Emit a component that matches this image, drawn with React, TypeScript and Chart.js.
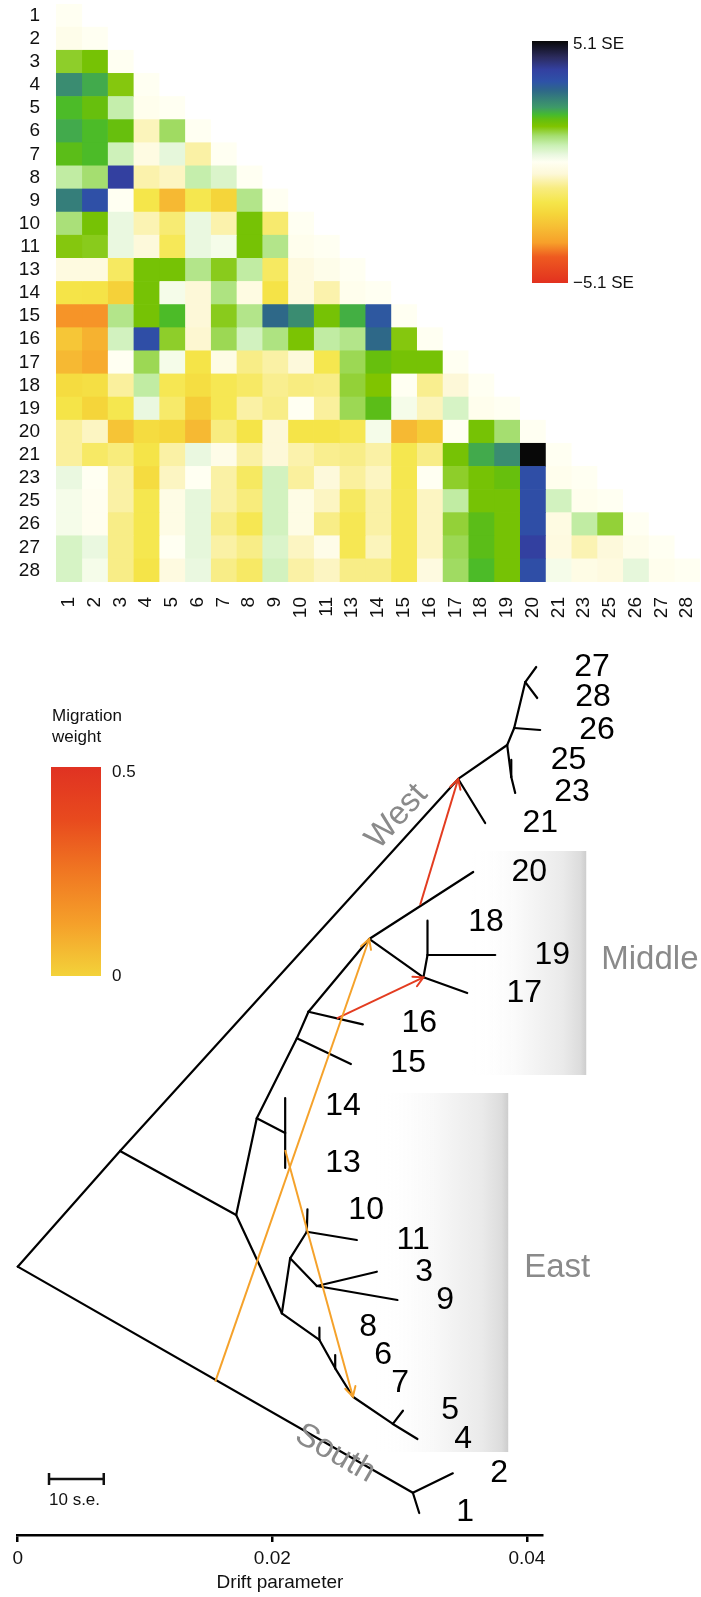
import React, { useEffect, useRef } from "react";
import { Chart, registerables } from "chart.js";

Chart.register(...registerables);

const FONT = '"Liberation Sans", Arial, Helvetica, sans-serif';
Chart.defaults.font.family = FONT;

// ---------------- Residual matrix (SE units) ----------------
const populations = ["1","2","3","4","5","6","7","8","9","10","11","13","14","15","16","17","18","19","20","21","23","25","26","27","28"];

const res1 = [0];
const res2 = [-0.15, 0];
const res3 = [1.35, 1.6, 0];
const res4 = [2.5, 2.15, 1.45, 0];
const res5 = [1.95, 1.75, 0.75, -0.1, 0];
const res6 = [2.15, 1.95, 1.75, -0.7, 1.15, 0];
const res7 = [1.85, 1.95, 0.65, -0.3, 0.35, -0.85, 0];
const res8 = [0.8, 1.1, 3.9, -0.8, -0.65, 0.75, 0.5, 0];
const res9 = [2.7, 3.45, 0, -1.7, -2.85, -1.65, -2.2, 0.95, 0];
const res10 = [1.05, 1.6, 0.3, -0.75, -1.25, 0.3, -0.8, 1.6, -1.3, 0];
const res11 = [1.45, 1.4, 0.3, -0.45, -1.55, 0.3, 0.15, 1.6, 0.95, -0.1, 0];
const res13 = [-0.35, -0.35, -1.45, 1.6, 1.6, 0.95, 1.4, 0.8, -1.45, -0.35, -0.15, 0];
const res14 = [-1.75, -1.8, -2.3, 1.6, 0.15, -0.5, 1.0, -0.3, -1.8, -0.35, -0.8, -0.1, 0];
const res15 = [-3.5, -3.5, 0.95, 1.6, 1.95, -0.5, 1.4, 0.95, 3.0, 2.5, 1.6, 2.1, 3.3, 0];
const res16 = [-2.55, -3.0, 0.6, 3.5, 1.35, -0.55, 1.2, 0.6, 1.0, 1.55, 0.8, 0.95, 3.0, 1.45, 0];
const res17 = [-2.85, -3.15, 0, 1.2, 0.15, -1.75, -0.25, -1.05, -0.85, -0.45, -1.65, 1.2, 1.75, 1.6, 1.6, 0];
const res18 = [-2.0, -1.9, -0.9, 0.8, -1.6, -1.95, -1.6, -1.4, -1.0, -1.1, -1.05, 1.3, 1.5, 0, -1.0, -0.5, 0];
const res19 = [-1.75, -2.2, -1.65, 0.3, -1.35, -2.4, -1.6, -0.85, -1.05, 0, -0.9, 1.2, 1.85, 0.15, -0.7, 0.55, -0.1, 0];
const res20 = [-0.9, -0.65, -2.6, -2.0, -2.15, -2.85, -1.1, -1.75, -0.5, -1.75, -1.75, -1.6, 0.15, -2.85, -2.4, 0, 1.6, 1.1, 0];
const res21 = [-0.9, -1.4, -1.15, -1.75, -0.85, 0.3, -0.2, -0.85, -0.5, -0.8, -1.0, -1.05, -0.85, -1.65, -1.05, 1.6, 2.15, 2.5, 5.1, 0];
const res23 = [0.3, 0, -0.85, -2.0, -0.65, 0, -0.85, -1.45, 0.6, -0.9, -0.45, -0.9, -0.65, -1.65, 0, 1.35, 1.6, 1.75, 3.5, -0.1, 0];
const res25 = [0.15, -0.05, -0.85, -1.65, -0.25, 0.35, -0.85, -1.15, 0.6, -0.25, -0.65, -1.45, -0.85, -1.6, -0.65, 0.8, 1.6, 1.6, 3.5, 0.6, -0.1, 0];
const res26 = [0.15, -0.05, -1.05, -1.65, -0.25, 0.35, -1.05, -1.6, 0.6, -0.25, -1.05, -1.6, -0.85, -1.6, -0.65, 1.3, 1.85, 1.6, 3.5, -0.3, 0.8, 1.3, 0];
const res27 = [0.55, 0.3, -1.05, -1.65, 0, 0.35, -0.85, -1.05, 0.5, -0.65, -0.2, -1.6, -0.7, -1.6, -0.65, 1.2, 1.85, 1.6, 3.9, -0.35, -0.75, -0.45, -0.15, 0];
const res28 = [0.55, 0.15, -1.05, -1.75, -0.35, 0.3, -1.05, -1.4, 0.6, -0.85, -0.65, -1.05, -1.05, -1.6, -0.35, 1.15, 1.95, 1.6, 3.5, 0.15, -0.25, -0.35, 0.35, -0.1, 0];

const residualRows = [res1, res2, res3, res4, res5, res6, res7, res8, res9, res10, res11, res13, res14, res15, res16, res17, res18, res19, res20, res21, res23, res25, res26, res27, res28];

const residualLimit = 5.1;
const residualStopValues = [-5.1, -4.0, -3.4, -2.7, -2.2, -1.7, -1.1, -0.5, 0, 0.3, 0.7, 1.1, 1.5, 1.8, 2.0, 2.3, 2.7, 3.0, 3.4, 3.9, 4.4, 5.1];
const residualStopColors = ["#E2311F", "#EE5A20", "#F7A02A", "#F6C035", "#F5D53A", "#F5E64A", "#F8EC80", "#FDF8D8", "#FFFFF2", "#EAF8E0", "#CAF0B4", "#A5DE70", "#80C400", "#62BE10", "#45BA30", "#3E9A68", "#357E7A", "#2E6888", "#2E52A8", "#3340A0", "#2C2C60", "#080808"];

// ---------------- Tree (drift parameter vs. layout position) ----------------
const nodeIds = ["R","A","W1","t21","W2","W3","t25","t23","W4","t26","W5","t27","t28",
  "B","C","D","t14","t13","F","t15","E","t16","M1","t20","M2","t17","M3","t18","t19",
  "G","H","I","t10","t11","J","t3","t9","K","t8","L","t6","N","P","t5","t4","S","t2","t1"];
const nodeDrift = [0.0, 0.00804, 0.0346, 0.03672, 0.03845, 0.03877, 0.03877, 0.03908, 0.039, 0.04104, 0.03987, 0.04073, 0.04081,
  0.01716, 0.01878, 0.02101, 0.02101, 0.02101, 0.02193, 0.02617, 0.02284, 0.02711, 0.02761, 0.03578, 0.03187, 0.03531, 0.03219, 0.03219, 0.03751,
  0.02075, 0.0214, 0.02271, 0.02276, 0.02664, 0.0235, 0.02821, 0.02983, 0.0237, 0.0237, 0.02494, 0.02494, 0.02633, 0.02947, 0.03026, 0.0314, 0.03104, 0.03418, 0.03154];
const nodeLayout = [29.65, 42.43, 83.54, 78.67, 87.29, 83.76, 85.64, 81.99, 89.17, 88.95, 94.25, 95.91, 92.49,
  35.36, 46.04, 44.42, 48.29, 40.55, 54.88, 52.04, 57.82, 56.43, 65.86, 73.26, 61.62, 59.89, 64.09, 67.88, 64.09,
  24.5, 30.57, 33.51, 35.99, 32.6, 27.51, 29.09, 25.97, 21.55, 22.91, 18.42, 19.89, 15.28, 12.27, 13.73, 10.61, 4.67, 6.82, 2.43];

const branchFrom = ["R","A","W1","W1","W2","W3","W3","W2","W4","W4","W5","W5",
  "A","B","C","D","D","C","F","F","E","E","M1","M1","M2","M2","M3","M3",
  "B","G","H","I","I","H","J","J","G","K","K","L","L","N","P","P",
  "R","S","S"];
const branchTo = ["A","W1","t21","W2","W3","t25","t23","W4","t26","W5","t27","t28",
  "B","C","D","t14","t13","F","t15","E","t16","M1","t20","M2","t17","M3","t18","t19",
  "G","H","I","t10","t11","J","t3","t9","K","t8","L","t6","N","P","t5","t4",
  "S","t2","t1"];

const migrationSourceDrift = [0.01552, 0.02101, 0.03161, 0.02507];
const migrationSourceLayout = [16.94, 42.54, 69.61, 57.09];
const migrationTarget = ["M1", "N", "W1", "M2"];
const migrationWeight = [0.12, 0.12, 0.45, 0.45];
const weightStopValues = [0, 0.125, 0.25, 0.375, 0.5];
const weightStopColors = ["#F3D23A", "#F5A02A", "#F07722", "#E84A1E", "#E03222"];

const tipNames = ["27","28","26","25","23","21","20","18","19","17","16","15","14","13","10","11","3","9","8","6","7","5","4","2","1"];
const tipLabelDrift = [0.04511, 0.04519, 0.0455, 0.04327, 0.04354, 0.04105, 0.04018, 0.03678, 0.04199, 0.03979, 0.03154, 0.03067, 0.02556, 0.02556, 0.02737, 0.03106, 0.03193, 0.03358, 0.02753, 0.02871, 0.03004, 0.03397, 0.03499, 0.03782, 0.03515];
const tipLabelLayout = [95.94, 92.56, 88.95, 85.64, 82.13, 78.64, 73.29, 67.77, 64.09, 59.89, 56.57, 52.15, 47.4, 41.1, 35.91, 32.6, 29.06, 25.97, 22.98, 19.89, 16.8, 13.81, 10.61, 6.85, 2.54];

const groupNames = ["West", "Middle", "East", "South"];
const groupDrift = [0.02978, 0.04584, 0.03979, 0.02494];
const groupLayout = [79.37, 63.54, 29.5, 9.0];
const groupAlongFrom = ["A", "", "", "R"];
const groupAlongTo = ["W1", "", "", "S"];

const boxDriftFrom = [0.03555, 0.02808];
const boxDriftTo = [0.04466, 0.03853];
const boxLayoutTop = [75.58, 48.84];
const boxLayoutBottom = [50.83, 9.17];

const seBarDriftStart = 0.00246;
const seBarDriftLength = 0.0043;
const seBarLayout = 6.19;

const driftTicks = [0, 0.02, 0.04];
const driftMax = 0.0412;

// ---------------- helpers ----------------
function hexToRgb(h: string) {
  const n = parseInt(h.slice(1), 16);
  return [(n >> 16) & 255, (n >> 8) & 255, n & 255];
}
function rampColor(values: number[], colors: string[], v: number) {
  if (v <= values[0]) return colors[0];
  if (v >= values[values.length - 1]) return colors[colors.length - 1];
  for (let i = 0; i < values.length - 1; i++) {
    if (v >= values[i] && v <= values[i + 1]) {
      const t = (v - values[i]) / (values[i + 1] - values[i]);
      const a = hexToRgb(colors[i]);
      const b = hexToRgb(colors[i + 1]);
      const c = a.map((x, k) => Math.round(x + (b[k] - x) * t));
      return `rgb(${c[0]},${c[1]},${c[2]})`;
    }
  }
  return colors[0];
}
const residualColor = (v: number) => rampColor(residualStopValues, residualStopColors, v);
const weightColor = (w: number) => rampColor(weightStopValues, weightStopColors, w);
const nodeIndex = (id: string) => nodeIds.indexOf(id);
const zeroPadding = (s: any) => {
  s.paddingLeft = 0;
  s.paddingRight = 0;
  s.paddingTop = 0;
  s.paddingBottom = 0;
};

// ---------------- heatmap chart ----------------
const heatLegendPlugin = {
  id: "heatLegend",
  afterDraw(chart: any) {
    const ctx = chart.ctx;
    const x0 = 532, x1 = 568, y0 = 41, y1 = 283;
    ctx.save();
    const g = ctx.createLinearGradient(0, y0, 0, y1);
    residualStopValues.forEach((v, i) => {
      g.addColorStop((residualLimit - v) / (2 * residualLimit), residualStopColors[i]);
    });
    ctx.fillStyle = g;
    ctx.fillRect(x0, y0, x1 - x0, y1 - y0);
    ctx.fillStyle = "#111";
    ctx.font = `17px ${FONT}`;
    ctx.textAlign = "left";
    ctx.textBaseline = "middle";
    ctx.fillText(`${residualLimit} SE`, 573, 44);
    ctx.fillText(`\u2212${residualLimit} SE`, 573, 283);
    ctx.restore();
  },
};

function Heatmap() {
  const ref = useRef<HTMLCanvasElement>(null);
  useEffect(() => {
    if (!ref.current) return;
    const datasets = populations.map((_, c) => ({
      data: residualRows.map((row, r) => (c <= r ? [c, c + 1] : null)),
      backgroundColor: residualRows.map((row) => (c < row.length ? residualColor(row[c]) : "rgba(0,0,0,0)")),
      borderWidth: 0,
      barPercentage: 1,
      categoryPercentage: 1,
      grouped: false,
    }));
    const chart = new Chart(ref.current, {
      type: "bar",
      data: { labels: populations, datasets: datasets as any },
      options: {
        indexAxis: "y",
        animation: false,
        responsive: false,
        events: [],
        layout: { padding: { top: 4, right: 1, left: 0, bottom: 0 } },
        plugins: { legend: { display: false }, tooltip: { enabled: false } },
        scales: {
          x: {
            type: "linear",
            min: 0,
            max: populations.length,
            position: "bottom",
            grid: { display: false, drawTicks: false },
            border: { display: false },
            afterBuildTicks: (s: any) => {
              s.ticks = populations.map((_, i) => ({ value: i + 0.5 }));
            },
            afterFit: (s: any) => {
              s.height = 48;
              zeroPadding(s);
            },
            ticks: {
              autoSkip: false,
              minRotation: 90,
              maxRotation: 90,
              padding: 15,
              color: "#111",
              font: { size: 19, family: FONT },
              callback: (v: any) => populations[Math.floor(Number(v))],
            },
          },
          y: {
            type: "category",
            grid: { display: false, drawTicks: false },
            border: { display: false },
            afterFit: (s: any) => {
              s.width = 56;
              zeroPadding(s);
            },
            ticks: { autoSkip: false, padding: 16, color: "#111", font: { size: 19, family: FONT } },
          },
        },
      },
      plugins: [heatLegendPlugin],
    });
    return () => chart.destroy();
  }, []);
  return <canvas ref={ref} width={701} height={630} style={{ display: "block", position: "absolute", left: 0, top: 0 }} />;
}

// ---------------- tree chart ----------------
const treeDecorPlugin = {
  id: "treeDecor",
  beforeDatasetsDraw(chart: any) {
    const { ctx } = chart;
    const x = chart.scales.x, y = chart.scales.y;
    ctx.save();
    for (let i = 0; i < boxDriftFrom.length; i++) {
      const x0 = x.getPixelForValue(boxDriftFrom[i]);
      const x1 = x.getPixelForValue(boxDriftTo[i]);
      const y0 = y.getPixelForValue(boxLayoutTop[i]);
      const y1 = y.getPixelForValue(boxLayoutBottom[i]);
      const g = ctx.createLinearGradient(x0, 0, x1, 0);
      g.addColorStop(0, "rgba(255,255,255,0)");
      g.addColorStop(0.45, "#F8F8F8");
      g.addColorStop(0.8, "#EAEAEA");
      g.addColorStop(0.95, "#DCDCDC");
      g.addColorStop(1, "#CDCDCD");
      ctx.fillStyle = g;
      ctx.fillRect(x0, y0, x1 - x0, y1 - y0);
    }
    ctx.restore();
  },
  afterDatasetsDraw(chart: any) {
    const { ctx } = chart;
    const x = chart.scales.x, y = chart.scales.y;
    ctx.save();
    // arrowheads
    for (let i = 0; i < migrationTarget.length; i++) {
      const t = nodeIndex(migrationTarget[i]);
      const tx = x.getPixelForValue(nodeDrift[t]);
      const ty = y.getPixelForValue(nodeLayout[t]);
      const sx = x.getPixelForValue(migrationSourceDrift[i]);
      const sy = y.getPixelForValue(migrationSourceLayout[i]);
      const ang = Math.atan2(ty - sy, tx - sx);
      const len = 11, spread = 0.5;
      ctx.strokeStyle = weightColor(migrationWeight[i]);
      ctx.lineWidth = 2;
      ctx.lineCap = "round";
      ctx.beginPath();
      ctx.moveTo(tx - len * Math.cos(ang - spread), ty - len * Math.sin(ang - spread));
      ctx.lineTo(tx, ty);
      ctx.lineTo(tx - len * Math.cos(ang + spread), ty - len * Math.sin(ang + spread));
      ctx.stroke();
    }
    // tip labels
    ctx.fillStyle = "#000";
    ctx.font = `32px ${FONT}`;
    ctx.textAlign = "center";
    ctx.textBaseline = "middle";
    tipNames.forEach((n, i) => {
      ctx.fillText(n, x.getPixelForValue(tipLabelDrift[i]), y.getPixelForValue(tipLabelLayout[i]));
    });
    // group labels
    ctx.fillStyle = "#8a8a8a";
    ctx.font = `33px ${FONT}`;
    groupNames.forEach((n, i) => {
      const px = x.getPixelForValue(groupDrift[i]);
      const py = y.getPixelForValue(groupLayout[i]);
      if (groupAlongFrom[i]) {
        const a = nodeIndex(groupAlongFrom[i]);
        const b = nodeIndex(groupAlongTo[i]);
        const ang = Math.atan2(
          y.getPixelForValue(nodeLayout[b]) - y.getPixelForValue(nodeLayout[a]),
          x.getPixelForValue(nodeDrift[b]) - x.getPixelForValue(nodeDrift[a])
        );
        ctx.save();
        ctx.translate(px, py);
        ctx.rotate(ang);
        ctx.textAlign = "center";
        ctx.fillText(n, 0, 0);
        ctx.restore();
      } else {
        ctx.textAlign = "left";
        ctx.fillText(n, px, py);
      }
    });
    // scale bar (10 s.e.)
    const bx0 = x.getPixelForValue(seBarDriftStart);
    const bx1 = x.getPixelForValue(seBarDriftStart + seBarDriftLength);
    const by = y.getPixelForValue(seBarLayout);
    ctx.strokeStyle = "#111";
    ctx.lineWidth = 2.5;
    ctx.lineCap = "butt";
    ctx.beginPath();
    ctx.moveTo(bx0, by); ctx.lineTo(bx1, by);
    ctx.moveTo(bx0, by - 6); ctx.lineTo(bx0, by + 6);
    ctx.moveTo(bx1, by - 6); ctx.lineTo(bx1, by + 6);
    ctx.stroke();
    ctx.fillStyle = "#111";
    ctx.font = `17px ${FONT}`;
    ctx.textAlign = "left";
    ctx.textBaseline = "middle";
    ctx.fillText("10 s.e.", bx0, by + 21);
    // migration weight legend
    ctx.fillText("Migration", 52, 86);
    ctx.fillText("weight", 52, 107);
    const lx0 = 51, lx1 = 101, ly0 = 137, ly1 = 346;
    const g = ctx.createLinearGradient(0, ly0, 0, ly1);
    weightStopValues.forEach((w, i) => g.addColorStop(1 - w / 0.5, weightStopColors[i]));
    ctx.fillStyle = g;
    ctx.fillRect(lx0, ly0, lx1 - lx0, ly1 - ly0);
    ctx.fillStyle = "#111";
    ctx.fillText(String(weightStopValues[weightStopValues.length - 1]), 112, 142);
    ctx.fillText(String(weightStopValues[0]), 112, 346);
    ctx.restore();
  },
};

function Tree() {
  const ref = useRef<HTMLCanvasElement>(null);
  useEffect(() => {
    if (!ref.current) return;
    const branchSets = branchFrom.map((f, i) => {
      const a = nodeIndex(f);
      const b = nodeIndex(branchTo[i]);
      return {
        data: [
          { x: nodeDrift[a], y: nodeLayout[a] },
          { x: nodeDrift[b], y: nodeLayout[b] },
        ],
        showLine: true,
        borderColor: "#000",
        borderWidth: 2.2,
        borderCapStyle: "round",
        pointRadius: 0,
        clip: false,
        order: 2,
      };
    });
    const migrationSets = migrationTarget.map((t, i) => {
      const b = nodeIndex(t);
      return {
        data: [
          { x: migrationSourceDrift[i], y: migrationSourceLayout[i] },
          { x: nodeDrift[b], y: nodeLayout[b] },
        ],
        showLine: true,
        borderColor: weightColor(migrationWeight[i]),
        borderWidth: 2,
        pointRadius: 0,
        clip: false,
        order: 1,
      };
    });
    const chart = new Chart(ref.current, {
      type: "scatter",
      data: { datasets: [...migrationSets, ...branchSets] as any },
      options: {
        animation: false,
        responsive: false,
        events: [],
        layout: { padding: { left: 17.7, right: 701 - 542.2, top: 0, bottom: 0 } },
        plugins: { legend: { display: false }, tooltip: { enabled: false } },
        scales: {
          x: {
            type: "linear",
            min: 0,
            max: driftMax,
            position: "bottom",
            afterBuildTicks: (s: any) => {
              s.ticks = driftTicks.map((v) => ({ value: v }));
            },
            afterFit: (s: any) => {
              s.height = 62;
            },
            border: { display: true, color: "#000", width: 2.5 },
            grid: { drawOnChartArea: false, drawTicks: true, tickLength: 7, color: "#000", lineWidth: 2.5 },
            ticks: {
              padding: 5,
              color: "#111",
              font: { size: 19, family: FONT },
              callback: (v: any) => (Number(v) === 0 ? "0" : String(Number(v))),
            },
            title: {
              display: true,
              text: "Drift parameter",
              color: "#111",
              font: { size: 19, family: FONT },
              padding: { top: 0, bottom: 3 },
            },
          },
          y: { type: "linear", min: 0, max: 100, display: false },
        },
      },
      plugins: [treeDecorPlugin],
    });
    return () => chart.destroy();
  }, []);
  return <canvas ref={ref} width={701} height={967} style={{ display: "block", position: "absolute", left: 0, top: 630 }} />;
}

export default function App() {
  return (
    <div style={{ position: "absolute", left: 0, top: 0, width: 701, height: 1597, background: "#fff", overflow: "hidden" }}>
      <Heatmap />
      <Tree />
    </div>
  );
}
